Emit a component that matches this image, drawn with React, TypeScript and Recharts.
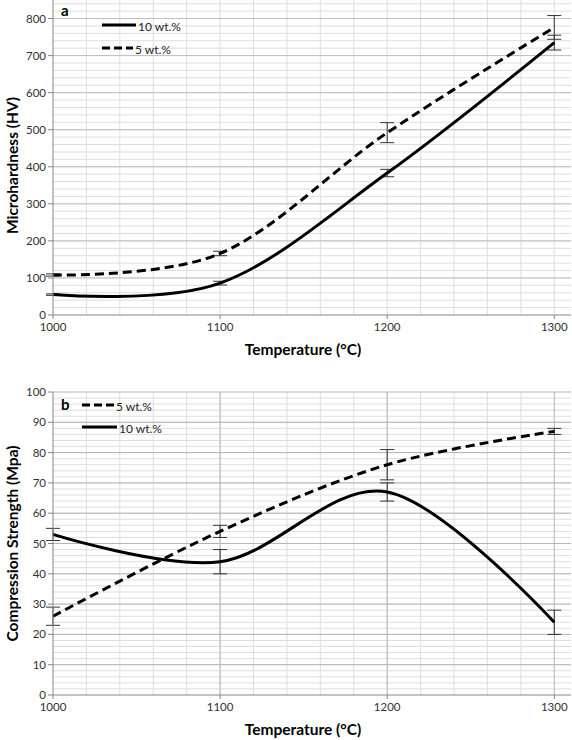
import React from "react";
import { LineChart, Line, XAxis, YAxis, CartesianGrid, ErrorBar } from "recharts";

// measured points (temperature in °C)
const temps = [1000, 1100, 1200, 1300];

// panel a: microhardness (HV)
const hv10 = [55, 86, 383, 735];
const hv10Err = [2, 5, 10, 20];
const hv5 = [108, 166, 492, 776];
const hv5Err = [3, 6, 27, 32];

// panel b: compression strength (MPa)
const cs5 = [26, 54, 76, 87];
const cs5Err = [3, 2, 5, 1];
const cs10 = [53, 44, 67, 24];
const cs10Err = [2, 4, 3, 4];

const tempTicks = [1000, 1100, 1200, 1300];
const hvTicks = [0, 100, 200, 300, 400, 500, 600, 700, 800];
const csTicks = [0, 10, 20, 30, 40, 50, 60, 70, 80, 90, 100];

const range = (a: number, b: number, step: number) => {
  const out: number[] = [];
  for (let v = a; v <= b + 1e-9; v += step) out.push(Math.round(v * 100) / 100);
  return out;
};

const hvData = temps.map((t, i) => ({ t, a: hv10[i], ae: hv10Err[i], b: hv5[i], be: hv5Err[i] }));
const csData = temps.map((t, i) => ({ t, a: cs5[i], ae: cs5Err[i], b: cs10[i], be: cs10Err[i] }));

// Excel-style smoothed line (cardinal spline, tension 0)
const smooth: any = (context: any) => {
  const k = 1 / 6;
  let x0 = NaN, y0 = NaN, x1 = NaN, y1 = NaN, x2 = NaN, y2 = NaN;
  let pt = 0;
  let ln = NaN;
  const seg = (x: number, y: number) => {
    context.bezierCurveTo(x1 + k * (x2 - x0), y1 + k * (y2 - y0), x2 + k * (x1 - x), y2 + k * (y1 - y), x2, y2);
  };
  return {
    areaStart() { ln = 0; },
    areaEnd() { ln = NaN; },
    lineStart() { x0 = x1 = x2 = y0 = y1 = y2 = NaN; pt = 0; },
    lineEnd() {
      if (pt === 2) context.lineTo(x2, y2);
      else if (pt === 3) seg(x1, y1);
      if (ln || (ln !== 0 && pt === 1)) context.closePath();
      ln = 1 - ln;
    },
    point(x: number, y: number) {
      x = +x; y = +y;
      if (pt === 0) { pt = 1; if (ln) context.lineTo(x, y); else context.moveTo(x, y); }
      else if (pt === 1) { pt = 2; x1 = x; y1 = y; }
      else { pt = 3; seg(x, y); }
      x0 = x1; x1 = x2; x2 = x; y0 = y1; y1 = y2; y2 = y;
    },
  };
};

// grid lines at given data values, placed through the axis scale
const scaleOf = (axis: any) => {
  const s = axis?.scale;
  if (typeof s === "function") return (v: number) => s(v);
  if (s && typeof s.map === "function") return (v: number) => s.map(v);
  return null;
};
const hGrid = (vals: number[]) => ({ yAxis }: any) => {
  const f = scaleOf(yAxis);
  return f ? vals.map((v) => f(v)) : [];
};
const vGrid = (vals: number[]) => ({ xAxis }: any) => {
  const f = scaleOf(xAxis);
  return f ? vals.map((v) => f(v)) : [];
};

const FONT = "Lato, 'Open Sans', sans-serif";
const tickStyle = { fontSize: 11.5, fill: "#333", fontFamily: FONT };
const axisColor = "#868686";
const titleStyle = { fontSize: 15.5, fontWeight: 700, fill: "#000", fontFamily: FONT };

const YTitle = ({ viewBox, text, dy }: any) => {
  const cy = viewBox.y + viewBox.height / 2 + dy;
  return (
    <text transform={`translate(12, ${cy}) rotate(-90)`} textAnchor="middle" dominantBaseline="central" style={titleStyle}>
      {text}
    </text>
  );
};

const XTitle = ({ viewBox, text, cy }: any) => (
  <text x={viewBox.x + viewBox.width / 2 - 9} y={cy} textAnchor="middle" dominantBaseline="central" style={titleStyle}>
    {text}
  </text>
);

const LegendKey = ({ x, y, dashed, len, label }: any) => (
  <g>
    <line x1={x} y1={y} x2={x + len} y2={y} stroke="#000" strokeWidth={3} strokeDasharray={dashed ? "8 4" : undefined} />
    <text x={x + len + 2} y={y + 1} dominantBaseline="central" style={{ fontSize: 12, fill: "#222", fontFamily: FONT }}>
      {label}
    </text>
  </g>
);

export default function App() {
  return (
    <div style={{ position: "absolute", left: 0, top: 0, width: 572, height: 740, background: "#fff" }}>
      <div style={{ position: "absolute", left: 0, top: 0 }}>
        <LineChart width={572} height={370} data={hvData} margin={{ top: 0, right: 1, bottom: 0, left: 0 }}>
          <CartesianGrid
            stroke="#dedede"
            horizontalCoordinatesGenerator={hGrid(range(20, 840, 20))}
            verticalCoordinatesGenerator={vGrid(range(1020, 1300, 20))}
          />
          <CartesianGrid stroke="#bfbfbf" horizontalCoordinatesGenerator={hGrid(hvTicks.slice(1))} vertical={false} />
          <XAxis
            dataKey="t"
            type="number"
            domain={[1000, 1310]}
            ticks={tempTicks}
            height={55}
            tick={tickStyle}
            tickSize={4}
            tickMargin={4}
            stroke={axisColor}
            label={{ content: (p: any) => <XTitle {...p} text="Temperature (°C)" cy={349} /> }}
          />
          <YAxis
            type="number"
            domain={[0, 850]}
            ticks={hvTicks}
            width={53}
            tick={tickStyle}
            tickSize={5}
            tickMargin={2}
            stroke={axisColor}
            label={{ content: (p: any) => <YTitle {...p} text="Microhardness (HV)" dy={8} /> }}
          />
          <Line dataKey="b" type={smooth} stroke="#000" strokeWidth={3} strokeDasharray="9 5" dot={false} isAnimationActive={false}>
            <ErrorBar dataKey="be" direction="y" width={7} stroke="#333" strokeWidth={1} />
          </Line>
          <Line dataKey="a" type={smooth} stroke="#000" strokeWidth={3} dot={false} isAnimationActive={false}>
            <ErrorBar dataKey="ae" direction="y" width={7} stroke="#333" strokeWidth={1} />
          </Line>
        </LineChart>
      </div>
      <div style={{ position: "absolute", left: 0, top: 370 }}>
        <LineChart width={572} height={370} data={csData} margin={{ top: 22, right: 1, bottom: 0, left: 0 }}>
          <CartesianGrid
            stroke="#dedede"
            horizontalCoordinatesGenerator={hGrid(range(2, 98, 2))}
            verticalCoordinatesGenerator={vGrid(range(1020, 1280, 20))}
          />
          <CartesianGrid
            stroke="#b5b5b5"
            horizontalCoordinatesGenerator={hGrid(csTicks.slice(1))}
            verticalCoordinatesGenerator={vGrid([1100, 1200, 1300])}
          />
          <XAxis
            dataKey="t"
            type="number"
            domain={[1000, 1310]}
            ticks={tempTicks}
            height={45}
            tick={tickStyle}
            tickSize={4}
            tickMargin={4}
            stroke={axisColor}
            label={{ content: (p: any) => <XTitle {...p} text="Temperature (°C)" cy={359} /> }}
          />
          <YAxis
            type="number"
            domain={[0, 100]}
            ticks={csTicks}
            width={53}
            tick={tickStyle}
            tickSize={5}
            tickMargin={2}
            stroke={axisColor}
            label={{ content: (p: any) => <YTitle {...p} text="Compression Strength (Mpa)" dy={0} /> }}
          />
          <Line dataKey="a" type={smooth} stroke="#000" strokeWidth={3} strokeDasharray="9 5" dot={false} isAnimationActive={false}>
            <ErrorBar dataKey="ae" direction="y" width={7} stroke="#333" strokeWidth={1} />
          </Line>
          <Line dataKey="b" type={smooth} stroke="#000" strokeWidth={3} dot={false} isAnimationActive={false}>
            <ErrorBar dataKey="be" direction="y" width={7} stroke="#333" strokeWidth={1} />
          </Line>
        </LineChart>
      </div>
      <svg width={572} height={740} style={{ position: "absolute", left: 0, top: 0, pointerEvents: "none" }}>
        <text x={61} y={10} dominantBaseline="central" style={{ fontSize: 15, fontWeight: 700, fontFamily: FONT }}>a</text>
        <LegendKey x={102} y={25} len={34} label="10 wt.%" />
        <LegendKey x={102} y={48} len={31} dashed label="5 wt.%" />
        <text x={61} y={404} dominantBaseline="central" style={{ fontSize: 15, fontWeight: 700, fontFamily: FONT }}>b</text>
        <LegendKey x={82} y={405} len={32} dashed label="5 wt.%" />
        <LegendKey x={82} y={427} len={35} label="10 wt.%" />
      </svg>
    </div>
  );
}
